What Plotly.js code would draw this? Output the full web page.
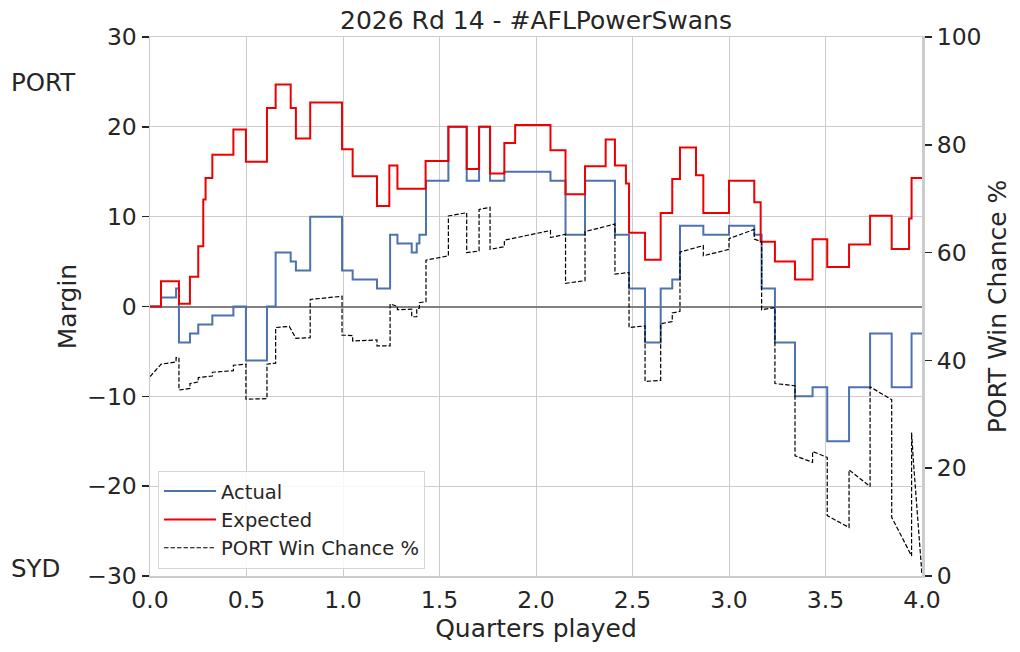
<!DOCTYPE html>
<html>
<head>
<meta charset="utf-8">
<script src="https://cdn.plot.ly/plotly-3.0.1.min.js"></script>
<style>html,body{margin:0;padding:0;background:#fff;}#chart{width:1020px;height:652px;}</style>
</head>
<body>
<div id="chart"></div>
<script>
// Actual margin (step, hv)
const actualX = [0, 0.057, 0.135, 0.150, 0.207, 0.250, 0.323, 0.432, 0.497, 0.606, 0.651, 0.729, 0.756, 0.830, 0.995, 1.050, 1.176, 1.244, 1.282, 1.356, 1.382, 1.396, 1.430, 1.546, 1.641, 1.705, 1.762, 1.836, 2.075, 2.153, 2.254, 2.409, 2.482, 2.565, 2.646, 2.706, 2.746, 2.867, 3.000, 3.131, 3.169, 3.238, 3.342, 3.433, 3.509, 3.622, 3.731, 3.843, 3.946, 4.0];
const actualY = [0, 1, 2, -4, -3, -2, -1, 0, -6, 0, 6, 5, 4, 10, 4, 3, 2, 8, 7, 6, 7, 8, 14, 20, 14, 20, 14, 15, 14, 8, 14, 8, 2, -4, 2, 3, 9, 8, 9, 8, 2, -4, -10, -9, -15, -9, -3, -9, -3, -3];

// Expected margin (step, hv)
const expectedX = [0, 0.057, 0.150, 0.207, 0.250, 0.276, 0.288, 0.323, 0.432, 0.497, 0.606, 0.651, 0.729, 0.756, 0.830, 0.995, 1.050, 1.176, 1.240, 1.282, 1.428, 1.546, 1.641, 1.705, 1.762, 1.836, 1.892, 2.075, 2.153, 2.254, 2.361, 2.409, 2.466, 2.482, 2.565, 2.646, 2.706, 2.746, 2.829, 2.867, 3.000, 3.131, 3.164, 3.238, 3.342, 3.433, 3.509, 3.622, 3.731, 3.843, 3.933, 3.946, 4.0];
const expectedY = [0, 2.8, 0.3, 3.3, 6.7, 11.9, 14.3, 16.9, 19.7, 16.1, 22.1, 24.7, 22.1, 18.7, 22.7, 17.5, 14.5, 11.2, 15.7, 13.1, 16.2, 20.0, 15.3, 20.0, 14.8, 18.2, 20.2, 17.4, 12.5, 15.6, 18.6, 15.7, 13.7, 8.2, 5.2, 10.4, 14.2, 17.7, 14.6, 10.4, 14.0, 11.6, 7.2, 5.0, 3.0, 7.5, 4.4, 6.9, 10.1, 6.4, 9.8, 14.3, 14.3];

// PORT win chance % (line points)
const winX = [0, 0.058, 0.135, 0.135, 0.150, 0.150, 0.207, 0.207, 0.250, 0.250, 0.323, 0.323, 0.432, 0.432, 0.497, 0.497, 0.606, 0.606, 0.651, 0.651, 0.722, 0.756, 0.830, 0.830, 0.995, 0.995, 1.050, 1.050, 1.176, 1.176, 1.244, 1.244, 1.282, 1.282, 1.356, 1.356, 1.382, 1.382, 1.396, 1.396, 1.430, 1.430, 1.546, 1.546, 1.641, 1.641, 1.705, 1.705, 1.762, 1.762, 1.836, 1.836, 2.075, 2.075, 2.153, 2.153, 2.254, 2.254, 2.409, 2.409, 2.482, 2.482, 2.565, 2.565, 2.646, 2.646, 2.706, 2.706, 2.746, 2.746, 2.867, 2.867, 3.000, 3.000, 3.131, 3.131, 3.169, 3.169, 3.238, 3.238, 3.342, 3.342, 3.433, 3.433, 3.509, 3.509, 3.622, 3.622, 3.731, 3.731, 3.843, 3.843, 3.946, 3.946, 3.955, 4.0];
const winY = [37.0, 39.3, 39.7, 40.5, 40.5, 34.5, 34.8, 35.7, 36.0, 36.8, 37.1, 37.8, 38.1, 39.1, 39.3, 32.8, 32.9, 39.3, 39.5, 46.1, 46.3, 44.1, 44.2, 51.3, 51.9, 44.7, 44.6, 43.6, 43.8, 42.7, 42.7, 50.5, 50.0, 49.4, 49.5, 48.1, 48.1, 49.6, 49.7, 50.7, 50.9, 58.6, 59.4, 66.8, 67.4, 60.0, 60.3, 68.0, 68.4, 60.6, 61.1, 62.3, 64.1, 62.8, 63.4, 54.3, 54.8, 63.9, 65.3, 56.0, 56.3, 46.1, 46.4, 36.1, 36.3, 46.8, 47.2, 48.8, 49.1, 60.1, 61.3, 59.4, 60.6, 62.6, 64.3, 62.5, 62.0, 49.4, 49.8, 35.7, 35.3, 22.3, 21.1, 23.1, 22.0, 11.2, 9.0, 19.7, 16.6, 35.1, 32.7, 10.9, 3.7, 26.6, 21.5, 0.2];

const xTicks = [0, 0.5, 1, 1.5, 2, 2.5, 3, 3.5, 4];
const yTicks = [-30, -20, -10, 0, 10, 20, 30];
const y2Ticks = [0, 20, 40, 60, 80, 100];

const txt = '#262626';
const font = 'DejaVu Sans, sans-serif';
const tickSize = 23.5;
const labelSize = 25;

const traces = [
  {x: actualX, y: actualY, type: 'scatter', mode: 'lines', name: 'Actual',
   line: {shape: 'hv', color: '#4c72b0', width: 2}, yaxis: 'y'},
  {x: expectedX, y: expectedY, type: 'scatter', mode: 'lines', name: 'Expected',
   line: {shape: 'hv', color: '#ee0000', width: 2}, yaxis: 'y'},
  {x: winX, y: winY, type: 'scatter', mode: 'lines', name: 'PORT Win Chance %',
   line: {color: '#000000', width: 1.2, dash: '4.5px,2px'}, yaxis: 'y2'}
];

const layout = {
  width: 1020, height: 652,
  margin: {l: 150, r: 98, t: 37, b: 76},
  paper_bgcolor: '#ffffff', plot_bgcolor: '#ffffff',
  font: {family: font, color: txt, size: 18},
  showlegend: true,
  title: {text: '2026 Rd 14 - #AFLPowerSwans', x: 0.5, xref: 'paper', xanchor: 'center',
          y: 1 - 20/652, yref: 'container', yanchor: 'middle',
          font: {family: font, size: labelSize, color: txt}},
  xaxis: {range: [0, 4], tickvals: xTicks, ticktext: xTicks.map(v => v.toFixed(1)),
          showgrid: true, gridcolor: '#cccccc', gridwidth: 1,
          showline: true, linecolor: '#cccccc', linewidth: 1.5, mirror: true,
          ticks: 'outside', ticklen: 2, tickcolor: 'rgba(0,0,0,0)',
          zeroline: false, tickfont: {size: tickSize, color: txt},
          title: {text: 'Quarters played', font: {size: labelSize, color: txt}, standoff: 6}},
  yaxis: {range: [-30, 30], tickvals: yTicks, ticktext: yTicks.map(v => v < 0 ? '\u2212' + Math.abs(v) : String(v)),
          showgrid: true, gridcolor: '#cccccc', gridwidth: 1,
          showline: true, linecolor: '#cccccc', linewidth: 1.5,
          ticks: 'outside', ticklen: 7, tickwidth: 1.5, tickcolor: txt,
          zeroline: true, zerolinecolor: '#808080', zerolinewidth: 2,
          tickfont: {size: tickSize, color: txt},
          title: {text: 'Margin', font: {size: labelSize, color: txt}, standoff: 3}},
  yaxis2: {range: [0, 100], tickvals: y2Ticks, overlaying: 'y', side: 'right',
           showgrid: false, zeroline: false,
           showline: true, linecolor: '#cccccc', linewidth: 3,
           ticks: 'outside', ticklen: 7, tickwidth: 1.5, tickcolor: txt,
           tickfont: {size: tickSize, color: txt},
           title: {text: 'PORT Win Chance %', font: {size: labelSize, color: txt}, standoff: 8}},
  legend: {x: 0.0104, y: 0.195, xanchor: 'left', yanchor: 'top',
           bgcolor: 'rgba(255,255,255,0.85)', bordercolor: '#d6d6d6', borderwidth: 1,
           font: {size: 19.5, color: txt}, tracegroupgap: 0, itemwidth: 52},
  annotations: [
    {text: 'PORT', xref: 'paper', yref: 'paper', x: -0.183, y: (576-82.5)/539,
     xanchor: 'left', yanchor: 'middle', showarrow: false, font: {size: 24.5, color: txt}},
    {text: 'SYD', xref: 'paper', yref: 'paper', x: -0.183, y: (576-568)/539,
     xanchor: 'left', yanchor: 'middle', showarrow: false, font: {size: 24.5, color: txt}}
  ]
};

Plotly.newPlot('chart', traces, layout, {displayModeBar: false, staticPlot: true});
</script>
</body>
</html>
